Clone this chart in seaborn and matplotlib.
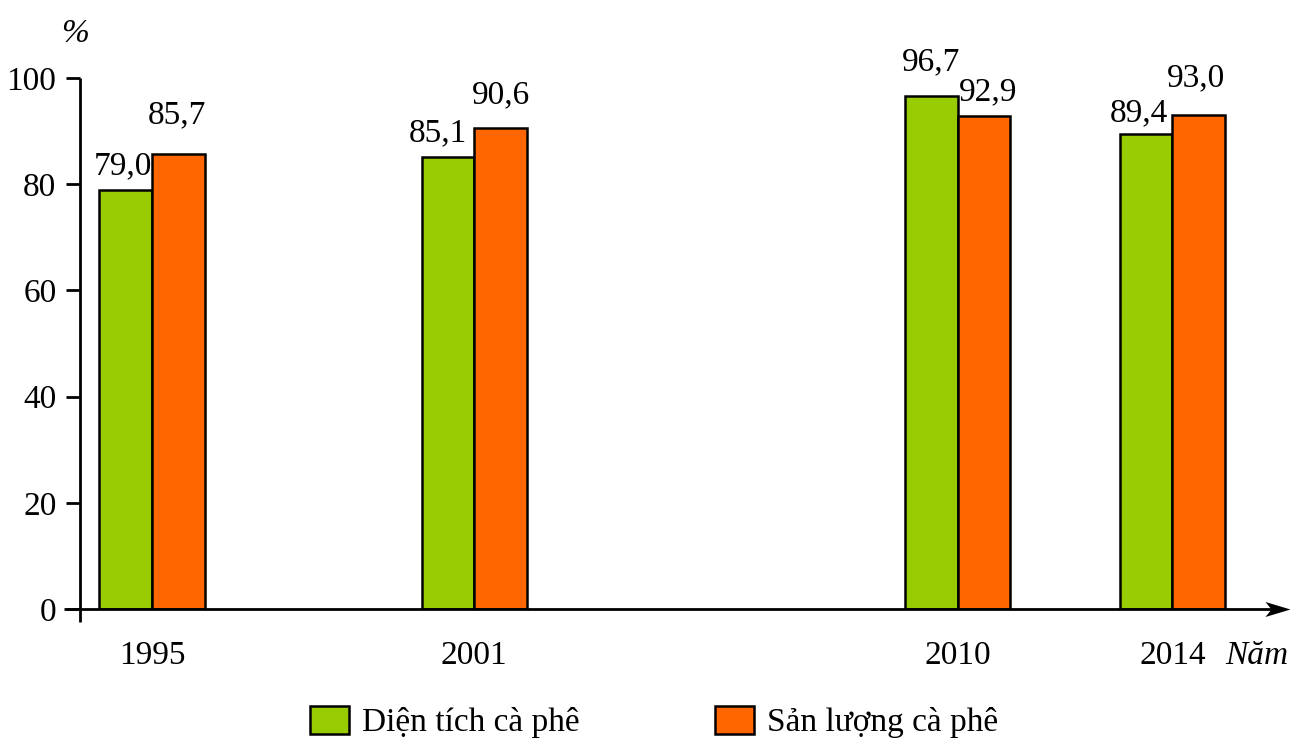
import numpy as np
import pandas as pd
import matplotlib
matplotlib.use("Agg")
import matplotlib.pyplot as plt
from matplotlib.path import Path
import seaborn as sns

# Data
years = [1995, 2001, 2010, 2014]
dien_tich = [79.0, 85.1, 96.7, 89.4]     # Diện tích cà phê (%)
san_luong = [85.7, 90.6, 92.9, 93.0]     # Sản lượng cà phê (%)
series_names = ["Diện tích cà phê", "Sản lượng cà phê"]
y_ticks = [0, 20, 40, 60, 80, 100]

# Styling
colors = ["#99CC00", "#FF6600"]
# label offsets (points) relative to each bar top centre: [series][year]
label_dx = [[-1.8, -7.2, -0.4, -5.4], [-1.1, 0.7, 3.2, -2.2]]
label_dy = [[10.8, 11.5, 18.0, 9.4], [22.3, 18.0, 10.8, 20.9]]

sns.set_style("white")
plt.rcParams["font.family"] = ["Liberation Serif", "DejaVu Serif"]
plt.rcParams["text.color"] = "black"

df = pd.DataFrame({
    "year": years * 2,
    "value": dien_tich + san_luong,
    "series": [series_names[0]] * len(years) + [series_names[1]] * len(years),
})

W, H = 1291, 740
fig = plt.figure(figsize=(W / 100, H / 100), dpi=100)
ax = fig.add_axes([80 / W, (H - 609) / H, (1290 - 80) / W, (609 - 78) / H])

sns.barplot(data=df, x="year", y="value", hue="series", hue_order=series_names,
            palette=colors, native_scale=True, width=0.489, gap=0, saturation=1,
            edgecolor="black", linewidth=1.8, errorbar=None, ax=ax)

x_left, x_right = 1993.659, 2016.19
ax.set_xlim(x_left, x_right)
ax.set_ylim(0, 100)
for sp in ax.spines.values():
    sp.set_visible(False)
ax.set_xlabel("")
ax.set_ylabel("")

ax.set_yticks(y_ticks)
ax.set_yticklabels([str(t) for t in y_ticks])
ax.tick_params(axis="y", left=True, direction="out", length=10, width=2,
               pad=7, labelsize=24, colors="black")
ax.set_xticks(years)
ax.set_xticklabels([str(y) for y in years])
ax.tick_params(axis="x", bottom=False, length=0, pad=23, labelsize=24,
               colors="black")

# vertical axis line (extends slightly below zero)
ax.plot([x_left, x_left], [-2.45, 100], color="black", lw=2,
        clip_on=False, solid_capstyle="butt", zorder=5)
# horizontal axis with arrow head
ax.plot([x_left - 0.30, x_right - 0.1], [0, 0], color="black", lw=2,
        clip_on=False, solid_capstyle="butt", zorder=5)
arrow = Path([(0, 0), (-1, 0.3), (-0.76, 0), (-1, -0.3), (0, 0)],
             [Path.MOVETO, Path.LINETO, Path.LINETO, Path.LINETO, Path.CLOSEPOLY])
ax.plot([x_right], [0], marker=arrow, ms=36, color="black", mew=0,
        clip_on=False, zorder=6)

# value labels
for si, cont in enumerate(ax.containers):
    for bar in cont.patches:
        cx = bar.get_x() + bar.get_width() / 2
        h = bar.get_height()
        yi = int(np.argmin([abs(cx - y) for y in years]))
        ax.annotate(f"{h:.1f}".replace(".", ","), xy=(cx, h),
                    xytext=(label_dx[si][yi], label_dy[si][yi]),
                    textcoords="offset points", ha="center", va="baseline",
                    fontsize=24, color="black", annotation_clip=False)

# axis titles
ax.text(1993.566, 106.8, "%", fontsize=24, style="italic", ha="center",
        va="baseline", color="black", clip_on=False)
ax.text(x_right - 0.03, -10.36, "Năm", fontsize=24, style="italic", ha="right",
        va="baseline", color="black", clip_on=False)

# legend
handles, labels = ax.get_legend_handles_labels()
if ax.get_legend() is not None:
    ax.get_legend().remove()
for hdl in handles:
    hdl.set_edgecolor("black")
    hdl.set_linewidth(1.8)
fig.legend(handles, labels, loc="upper left", bbox_to_anchor=(310 / W, 1 - 706 / H),
           ncol=2, frameon=False, fontsize=24, handlelength=1.17, handleheight=0.9,
           handletextpad=0.39, columnspacing=4.05, borderpad=0, borderaxespad=0)

fig.savefig("out.png", dpi=100)
